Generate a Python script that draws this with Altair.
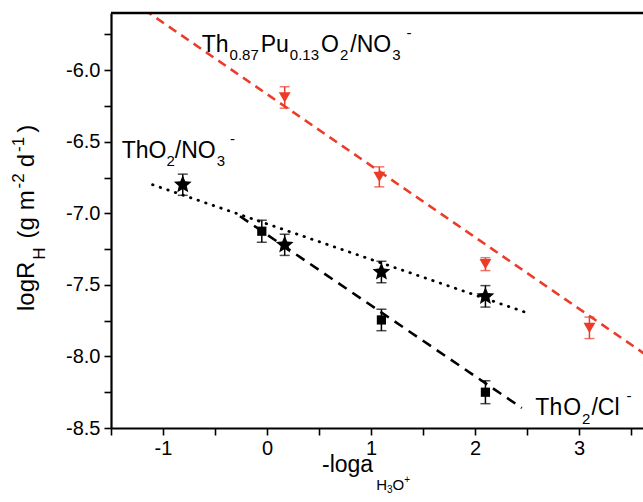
import altair as alt
import pandas as pd

# ---------------- data ----------------
tri_x = [0.17, 1.08, 2.1, 3.1]          # Th0.87Pu0.13O2 / NO3-
tri_y = [-6.19, -6.745, -7.355, -7.80]
tri_err = [0.075, 0.07, 0.045, 0.075]

star_x = [-0.81, 0.17, 1.1, 2.1]        # ThO2 / NO3-
star_y = [-6.80, -7.22, -7.41, -7.58]
star_err = [0.074, 0.074, 0.075, 0.075]

sq_x = [-0.05, 1.1, 2.1]                 # ThO2 / Cl-
sq_y = [-7.125, -7.745, -8.25]
sq_err = [0.077, 0.075, 0.08]

# fitted lines (end points)
red_fit_x = [-1.3, 3.8]
red_fit_y = [-5.517, -8.067]
cl_fit_x = [-0.26, 2.45]
cl_fit_y = [-7.02, -8.36]
no3_fit_x = [-1.1, 2.52]
no3_fit_y = [-6.80, -7.70]

x_ticks = [-1.5, -1.0, -0.5, 0.0, 0.5, 1.0, 1.5, 2.0, 2.5, 3.0, 3.5]
y_ticks = [-8.5, -8.25, -8.0, -7.75, -7.5, -7.25, -7.0, -6.75, -6.5, -6.25, -6.0, -5.75]

X_DOMAIN = [-1.5, 3.615]
Y_DOMAIN = [-8.5, -5.6]

RED = "#ec3c29"
FONT = "Liberation Sans"
STAR = ("M0,-1L0.265,-0.364L0.951,-0.309L0.428,0.139L0.588,0.809L0,0.45"
        "L-0.588,0.809L-0.428,0.139L-0.951,-0.309L-0.265,-0.364Z")

# ---------------- scales / axes ----------------
xs = alt.Scale(domain=X_DOMAIN, nice=False, zero=False)
ys = alt.Scale(domain=Y_DOMAIN, nice=False, zero=False)

xaxis = alt.Axis(
    orient="bottom",
    values=x_ticks, grid=False, title=None, labelFlush=False, labelOverlap=False,
    labelExpr="abs(datum.value - round(datum.value)) < 0.001 ? ((datum.value < 0 ? '-' : '') + format(abs(datum.value), 'd')) : ''",
    labelFont=FONT, labelFontSize=20, labelColor="black", labelPadding=3,
    tickSize=7, tickWidth=1.6, tickColor="black", domainColor="black", domainWidth=2.2,
)
yaxis = alt.Axis(
    orient="left",
    values=y_ticks, grid=False, title=None, labelFlush=False, labelOverlap=False,
    labelExpr="abs(datum.value*2 - round(datum.value*2)) < 0.001 ? ((datum.value < 0 ? '-' : '') + format(abs(datum.value), '.1f')) : ''",
    labelFont=FONT, labelFontSize=20, labelColor="black", labelPadding=4,
    tickSize=7, tickWidth=1.6, tickColor="black", domainColor="black", domainWidth=2.2,
)


def X(field=None, datum=None):
    if datum is not None:
        return alt.X(datum=datum, type="quantitative", scale=xs, axis=xaxis)
    return alt.X(field, type="quantitative", scale=xs, axis=xaxis)


def Y(field=None, datum=None):
    if datum is not None:
        return alt.Y(datum=datum, type="quantitative", scale=ys, axis=yaxis)
    return alt.Y(field, type="quantitative", scale=ys, axis=yaxis)


def series_df(xv, yv, ev):
    return pd.DataFrame({"x": xv, "y": yv, "lo": [a - e for a, e in zip(yv, ev)],
                         "hi": [a + e for a, e in zip(yv, ev)]})


tri_df = series_df(tri_x, tri_y, tri_err)
star_df = series_df(star_x, star_y, star_err)
sq_df = series_df(sq_x, sq_y, sq_err)

layers = []

# fit lines
layers.append(alt.Chart(pd.DataFrame({"x": red_fit_x, "y": red_fit_y}))
              .mark_line(color=RED, strokeWidth=2.6, strokeDash=[9, 6], clip=True)
              .encode(x=X("x"), y=Y("y")))
layers.append(alt.Chart(pd.DataFrame({"x": cl_fit_x, "y": cl_fit_y}))
              .mark_line(color="black", strokeWidth=2.6, strokeDash=[10, 7], clip=True)
              .encode(x=X("x"), y=Y("y")))
layers.append(alt.Chart(pd.DataFrame({"x": no3_fit_x, "y": no3_fit_y}))
              .mark_line(color="black", strokeWidth=2.8, strokeDash=[0.5, 7.5], strokeCap="round", clip=True)
              .encode(x=X("x"), y=Y("y")))

# top frame line
layers.append(alt.Chart(pd.DataFrame({"a": [0]})).mark_rule(color="black", strokeWidth=2.4)
              .encode(y=Y(datum=Y_DOMAIN[1])))


def errorbars(df, color):
    out = []
    out.append(alt.Chart(df).mark_rule(color=color, strokeWidth=1.5)
               .encode(x=X("x"), y=Y("lo"), y2=alt.Y2("hi")))
    for f in ["lo", "hi"]:
        out.append(alt.Chart(df).mark_tick(color=color, orient="horizontal", size=10, thickness=1.5)
                   .encode(x=X("x"), y=Y(f)))
    return out


layers += errorbars(tri_df, RED)
layers += errorbars(star_df, "black")
layers += errorbars(sq_df, "black")

layers.append(alt.Chart(tri_df).mark_point(shape="triangle-down", filled=True, color=RED, size=140, opacity=1)
              .encode(x=X("x"), y=Y("y")))
layers.append(alt.Chart(star_df).mark_point(shape=STAR, filled=True, color="black", size=350, opacity=1)
              .encode(x=X("x"), y=Y("y")))
layers.append(alt.Chart(sq_df).mark_point(shape="square", filled=True, color="black", size=85, opacity=1)
              .encode(x=X("x"), y=Y("y")))

# ---------------- text with sub / superscripts ----------------
W = {'T': 611, 'h': 556, 'O': 778, '/': 278, 'N': 722, 'C': 722, 'l': 222, 'P': 667,
     'u': 556, '.': 278, '-': 333, ' ': 278, 'g': 556, 'o': 556, 'a': 556, 'R': 722,
     'H': 722, '(': 333, ')': 333, 'm': 833, 'd': 556, '+': 584}


def width(s, size):
    return sum(W.get(c, 556) for c in s) * size / 1000.0


def rich(pieces, x0, y0):
    """pieces: (text, fontsize, baseline shift, extra gap before)."""
    out = []
    adv = 0.0
    for txt, size, shift, gap in pieces:
        adv += gap
        out.append(alt.Chart(pd.DataFrame({"a": [0]}))
                   .mark_text(text=txt, font=FONT, fontSize=size, align="left", baseline="alphabetic",
                              dx=adv, dy=shift, color="black")
                   .encode(x=X(datum=x0), y=Y(datum=y0)))
        adv += width(txt, size)
    return out


BIG, SMALL = 23, 15
label_top = [("Th", BIG, 0, 0), ("0.87", SMALL, 8, 1), ("Pu", BIG, 0, 2), ("0.13", SMALL, 8, 1),
             ("O", BIG, 0, 2), ("2", SMALL, 8, 1), ("/NO", BIG, 0, 2), ("3", SMALL, 8, 1),
             ("-", SMALL, -14, 6)]
label_no3 = [("Th", BIG, 0, 0), ("O", BIG, 0, 0), ("2", SMALL, 8, 0), ("/NO", BIG, 0, 0),
             ("3", SMALL, 8, 1), ("-", SMALL, -14, 5)]
label_cl = [("Th", BIG, 0, 0), ("O", BIG, 0, 1), ("2", SMALL, 9, 1), ("/Cl", BIG, 0, 1),
            ("-", SMALL, -14, 7)]

layers += rich(label_top, -0.628, -5.873)
layers += rich(label_no3, -1.397, -6.615)
layers += rich(label_cl, 2.58, -8.41)

# ---------------- axis titles (built from pieces) ----------------
TBIG, TSMALL = 24, 17
ytitle = [("logR", TBIG, 0, 0), ("H", TSMALL, 11, 2), ("(g m", TBIG, 0, 9), ("-2", TSMALL, -10, 2),
          ("d", TBIG, 0, 6), ("-1", TSMALL, -10, 2), (")", TBIG, 0, 4)]
adv = 0.0
for txt, size, shift, gap in ytitle:
    adv += gap
    layers.append(alt.Chart(pd.DataFrame({"a": [0]}))
                  .mark_text(text=txt, font=FONT, fontSize=size, align="left", baseline="alphabetic",
                             angle=270, dx=adv, dy=shift, color="black")
                  .encode(x=alt.value(-77), y=alt.value(298)))
    adv += width(txt, size)

xtitle = [("-loga", 23, 0, 0), ("H", 15, 18, 3), ("3", 10, 21, 0), ("O", 15, 18, 0), ("+", 10, 11, 0)]
adv = 0.0
for txt, size, shift, gap in xtitle:
    adv += gap
    layers.append(alt.Chart(pd.DataFrame({"a": [0]}))
                  .mark_text(text=txt, font=FONT, fontSize=size, align="left", baseline="alphabetic",
                             dx=adv, dy=shift, color="black")
                  .encode(x=alt.value(211), y=alt.value(459)))
    adv += width(txt, size)

chart = (alt.layer(*layers)
         .properties(width=532, height=415, autosize=alt.AutoSizeParams(type="none"),
                     padding={"left": 111, "top": 13, "right": 0, "bottom": 74},
                     background="white")
         .configure_view(stroke=None))

chart.save("out.html", embed_options={"renderer": "svg", "actions": False})
